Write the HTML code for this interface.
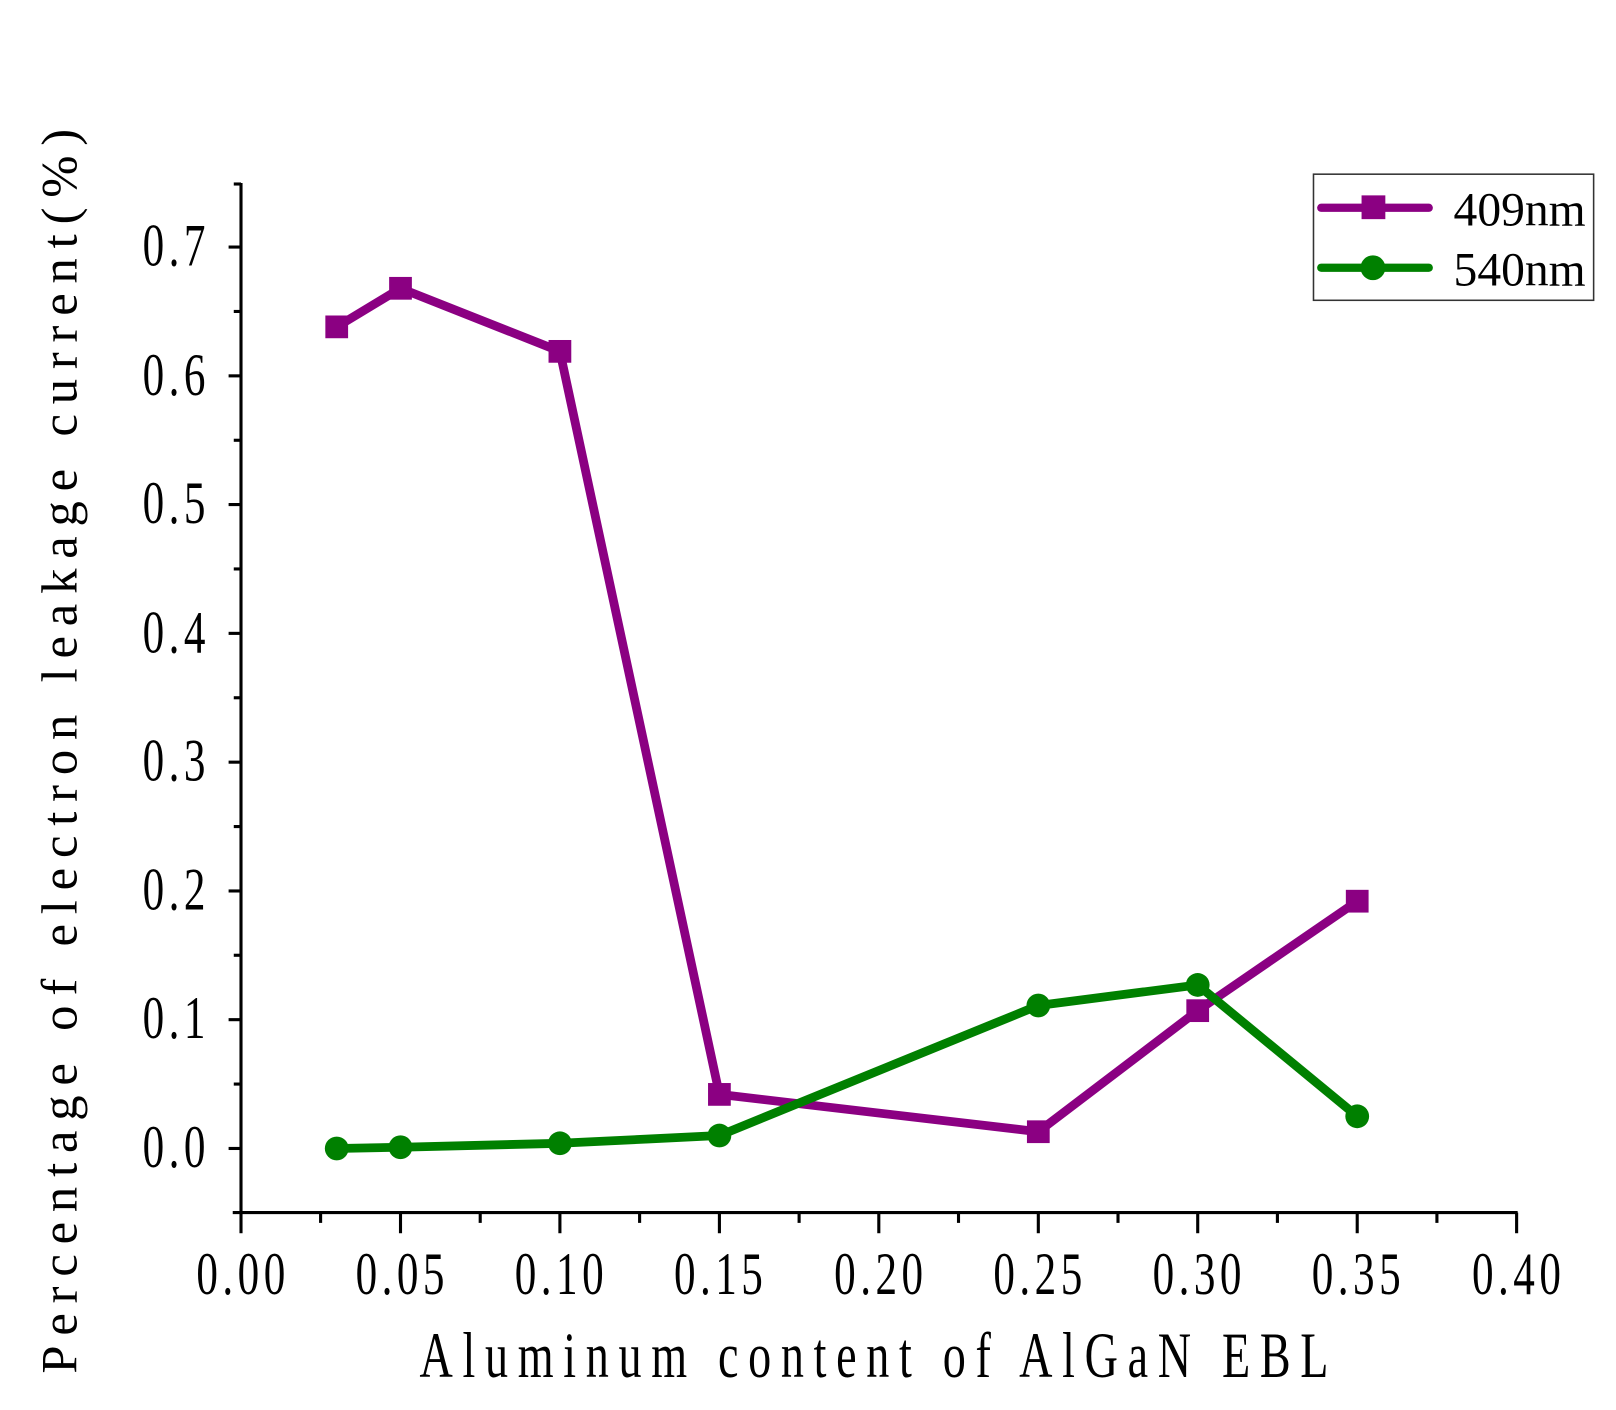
<!DOCTYPE html>
<html><head><meta charset="utf-8"><style>html,body{margin:0;padding:0;background:#fff}svg{display:block}</style></head>
<body>
<svg width="1616" height="1410" viewBox="0 0 1563 1364" xmlns="http://www.w3.org/2000/svg">
<g stroke="#000" stroke-width="3" fill="none">
<line x1="233" y1="177" x2="233" y2="1174"/>
<line x1="225" y1="1173" x2="1468" y2="1173"/>
<g>
<line x1="221" y1="1111" x2="233" y2="1111"/><line x1="226" y1="1048.7" x2="233" y2="1048.7"/>
<line x1="221" y1="986.4" x2="233" y2="986.4"/><line x1="226" y1="924.1" x2="233" y2="924.1"/>
<line x1="221" y1="861.9" x2="233" y2="861.9"/><line x1="226" y1="799.6" x2="233" y2="799.6"/>
<line x1="221" y1="737.3" x2="233" y2="737.3"/><line x1="226" y1="675" x2="233" y2="675"/>
<line x1="221" y1="612.7" x2="233" y2="612.7"/><line x1="226" y1="550.4" x2="233" y2="550.4"/>
<line x1="221" y1="488.1" x2="233" y2="488.1"/><line x1="226" y1="425.9" x2="233" y2="425.9"/>
<line x1="221" y1="363.6" x2="233" y2="363.6"/><line x1="226" y1="301.3" x2="233" y2="301.3"/>
<line x1="221" y1="239" x2="233" y2="239"/><line x1="226" y1="178" x2="233" y2="178"/>
</g>
<g>
<line x1="233" y1="1173" x2="233" y2="1193"/><line x1="310" y1="1173" x2="310" y2="1183"/>
<line x1="387.3" y1="1173" x2="387.3" y2="1193"/><line x1="464.4" y1="1173" x2="464.4" y2="1183"/>
<line x1="541.5" y1="1173" x2="541.5" y2="1193"/><line x1="618.6" y1="1173" x2="618.6" y2="1183"/>
<line x1="695.8" y1="1173" x2="695.8" y2="1193"/><line x1="772.9" y1="1173" x2="772.9" y2="1183"/>
<line x1="850" y1="1173" x2="850" y2="1193"/><line x1="927.1" y1="1173" x2="927.1" y2="1183"/>
<line x1="1004.3" y1="1173" x2="1004.3" y2="1193"/><line x1="1081.4" y1="1173" x2="1081.4" y2="1183"/>
<line x1="1158.5" y1="1173" x2="1158.5" y2="1193"/><line x1="1235.6" y1="1173" x2="1235.6" y2="1183"/>
<line x1="1312.8" y1="1173" x2="1312.8" y2="1193"/><line x1="1389.9" y1="1173" x2="1389.9" y2="1183"/>
<line x1="1467" y1="1173" x2="1467" y2="1193"/>
</g>
</g>
<g font-family="Liberation Serif, serif" font-size="58" fill="#000">
<g text-anchor="end" letter-spacing="6">
<text transform="translate(203,1129) scale(0.72,1)">0.0</text>
<text transform="translate(203,1004) scale(0.72,1)">0.1</text>
<text transform="translate(203,880) scale(0.72,1)">0.2</text>
<text transform="translate(203,755) scale(0.72,1)">0.3</text>
<text transform="translate(203,631) scale(0.72,1)">0.4</text>
<text transform="translate(203,506) scale(0.72,1)">0.5</text>
<text transform="translate(203,382) scale(0.72,1)">0.6</text>
<text transform="translate(203,257) scale(0.72,1)">0.7</text>
</g>
<g text-anchor="middle" letter-spacing="6">
<text transform="translate(235,1252) scale(0.72,1)">0.00</text>
<text transform="translate(389,1252) scale(0.72,1)">0.05</text>
<text transform="translate(543,1252) scale(0.72,1)">0.10</text>
<text transform="translate(697,1252) scale(0.72,1)">0.15</text>
<text transform="translate(852,1252) scale(0.72,1)">0.20</text>
<text transform="translate(1006,1252) scale(0.72,1)">0.25</text>
<text transform="translate(1160,1252) scale(0.72,1)">0.30</text>
<text transform="translate(1314,1252) scale(0.72,1)">0.35</text>
<text transform="translate(1469,1252) scale(0.72,1)">0.40</text>
</g>
<text transform="translate(850,1332) scale(0.72,1)" text-anchor="middle" font-size="62" letter-spacing="13">Aluminum content of AlGaN EBL</text>
<text transform="translate(74,722) rotate(-90)" text-anchor="middle" font-size="49" letter-spacing="9.5">Percentage of electron leakage current(%)</text>
</g>
<polyline fill="none" stroke="#8b0082" stroke-width="8.5" stroke-linejoin="round" points="325.6,316.2 387.3,278.9 541.5,339.9 695.8,1058.7 1004.3,1094.8 1158.5,977.7 1312.8,871.8"/>
<g fill="#8b0082">
<rect x="314.6" y="305.2" width="22" height="22"/><rect x="376.3" y="267.9" width="22" height="22"/>
<rect x="530.5" y="328.9" width="22" height="22"/><rect x="684.8" y="1047.7" width="22" height="22"/>
<rect x="993.3" y="1083.8" width="22" height="22"/><rect x="1147.5" y="966.7" width="22" height="22"/>
<rect x="1301.8" y="860.8" width="22" height="22"/>
</g>
<polyline fill="none" stroke="#008000" stroke-width="8.5" stroke-linejoin="round" points="325.6,1111 387.3,1109.8 541.5,1106 695.8,1098.5 1004.3,972.7 1158.5,952.8 1312.8,1079.9"/>
<g fill="#008000">
<circle cx="325.6" cy="1111" r="11.5"/><circle cx="387.3" cy="1109.8" r="11.5"/><circle cx="541.5" cy="1106" r="11.5"/>
<circle cx="695.8" cy="1098.5" r="11.5"/><circle cx="1004.3" cy="972.7" r="11.5"/><circle cx="1158.5" cy="952.8" r="11.5"/>
<circle cx="1312.8" cy="1079.9" r="11.5"/>
</g>
<rect x="1270.5" y="168.5" width="271" height="122" fill="none" stroke="#333" stroke-width="1.5"/>
<line x1="1278" y1="201" x2="1382" y2="201" stroke="#8b0082" stroke-width="8" stroke-linecap="round"/>
<rect x="1317" y="189" width="23" height="23" fill="#8b0082"/>
<line x1="1278" y1="259" x2="1382" y2="259" stroke="#008000" stroke-width="8" stroke-linecap="round"/>
<circle cx="1328" cy="259" r="12" fill="#008000"/>
<g font-family="Liberation Serif, serif" font-size="46" fill="#000">
<text x="1406" y="218">409nm</text><text x="1406" y="276">540nm</text>
</g>
</svg>
</body></html>
